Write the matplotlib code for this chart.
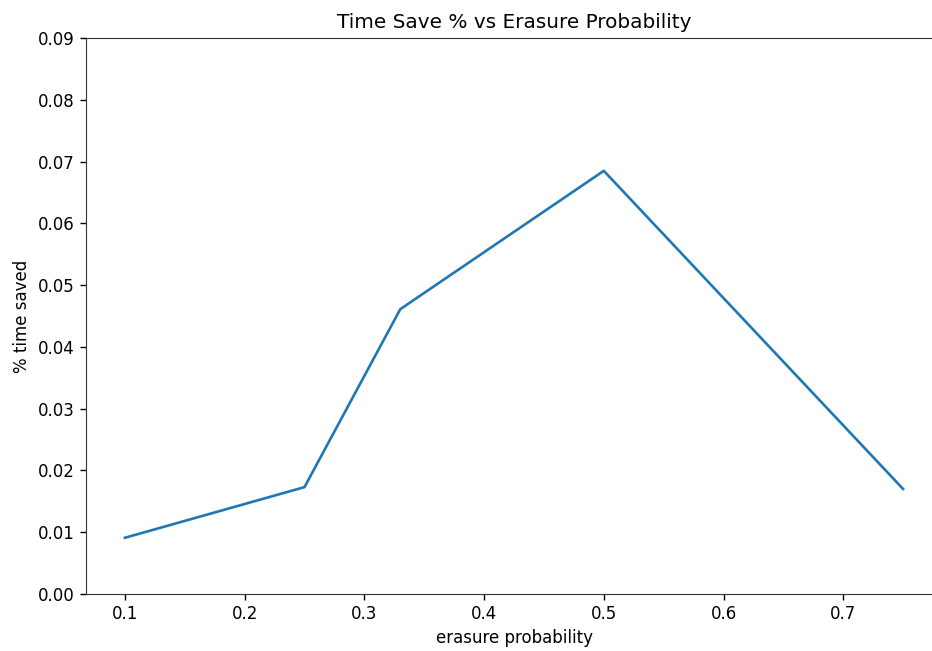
import matplotlib
matplotlib.use("Agg")
import matplotlib.pyplot as plt

erasure_prob = [0.1, 0.25, 0.33, 0.5, 0.75]
time_saved = [0.0091, 0.0173, 0.0461, 0.0685, 0.0170]
y_ticks = [0.00, 0.01, 0.02, 0.03, 0.04, 0.05, 0.06, 0.07, 0.08, 0.09]

plt.rcParams['font.family'] = ['DejaVu Sans']
plt.rcParams['font.size'] = 12

fig = plt.figure(figsize=(9.32, 6.51), dpi=100)
ax = fig.add_axes([86 / 932, 57 / 651, 856 / 932, 556 / 651])
ax.plot(erasure_prob, time_saved, color='#1f77b4', linewidth=1.9)
ax.set_ylim(0, 0.09)
ax.set_yticks(y_ticks)
ax.set_yticklabels([f"{v:.2f}" for v in y_ticks])
ax.set_xlim(0.0675, 0.7825)
ax.set_title("Time Save % vs Erasure Probability", fontsize=14.4, pad=7)
ax.set_xlabel("erasure probability", labelpad=4)
ax.set_ylabel("% time saved", labelpad=5)
ax.tick_params(length=4.5, width=1)
for s in ax.spines.values():
    s.set_color('#333333')
fig.savefig("out.png", dpi=100)
